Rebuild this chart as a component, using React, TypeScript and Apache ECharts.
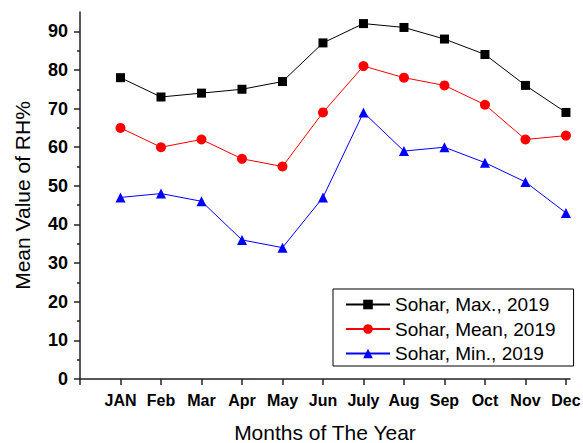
import React, { useEffect, useRef } from "react";
import * as echarts from "echarts";

const months = ["JAN", "Feb", "Mar", "Apr", "May", "Jun", "July", "Aug", "Sep", "Oct", "Nov", "Dec"];
const maxValues = [78, 73, 74, 75, 77, 87, 92, 91, 88, 84, 76, 69];
const meanValues = [65, 60, 62, 57, 55, 69, 81, 78, 76, 71, 62, 63];
const minValues = [47, 48, 46, 36, 34, 47, 69, 59, 60, 56, 51, 43];
const yMajorTicks = [0, 10, 20, 30, 40, 50, 60, 70, 80, 90];
const yMinorTicks = [5, 15, 25, 35, 45, 55, 65, 75, 85];
const seriesNames = ["Sohar, Max., 2019", "Sohar, Mean, 2019", "Sohar, Min., 2019"];

const FONT = "Liberation Sans, Arial, sans-serif";

export default function App() {
  const ref = useRef<HTMLDivElement>(null);
  useEffect(() => {
    if (!ref.current) return;
    document.body.style.margin = "0";
    const chart = echarts.init(ref.current, null, { renderer: "svg" });
    const toPts = (vals: number[]) => vals.map((v, i) => [i + 1, v]);
    const xPositions = months.map((_, i) => i + 1);
    const axisColor = "#222";
    chart.setOption({
      animation: false,
      backgroundColor: "#fff",
      textStyle: { fontFamily: FONT },
      grid: { left: 80, right: 13, top: 12, bottom: 64, containLabel: false, outerBoundsMode: "none" },
      legend: {
        orient: "vertical",
        left: 333,
        top: 289,
        padding: [6, 18, 3, 12],
        itemWidth: 44,
        itemHeight: 12,
        itemGap: 5.5,
        borderColor: "#000",
        borderWidth: 1,
        backgroundColor: "#fff",
        textStyle: { fontSize: 19, lineHeight: 18, color: "#000", fontFamily: FONT },
        data: seriesNames,
      },
      xAxis: {
        type: "value",
        min: 0,
        max: 12.1,
        interval: 1,
        name: "Months of The Year",
        nameLocation: "middle",
        nameGap: 43,
        nameTextStyle: { fontSize: 21, color: "#000", fontFamily: FONT },
        axisLine: { show: true, onZero: false, lineStyle: { color: axisColor, width: 1.5 } },
        axisTick: { show: true, inside: false, length: 6, customValues: [0, ...xPositions], lineStyle: { color: axisColor, width: 1.5 } },
        axisLabel: {
          customValues: xPositions,
          formatter: (v: number) => months[Math.round(v) - 1] ?? "",
          fontSize: 16,
          fontWeight: "bold",
          color: "#000",
          margin: 13,
          fontFamily: FONT,
        },
        splitLine: { show: false },
      },
      yAxis: [
        {
          type: "value",
          min: 0,
          max: 95,
          interval: 10,
          name: "Mean Value of RH%",
          nameLocation: "middle",
          nameGap: 47,
          nameTextStyle: { fontSize: 21, color: "#000", fontFamily: FONT },
          axisLine: { show: true, onZero: false, lineStyle: { color: axisColor, width: 1.5 } },
          axisTick: { show: true, inside: false, length: 6, customValues: yMajorTicks, lineStyle: { color: axisColor, width: 1.5 } },
          axisLabel: {
            customValues: yMajorTicks,
            fontSize: 18,
            fontWeight: "bold",
            color: "#000",
            margin: 12,
            fontFamily: FONT,
          },
          splitLine: { show: false },
        },
        {
          type: "value",
          position: "left",
          min: 0,
          max: 95,
          interval: 5,
          axisLine: { show: false },
          axisTick: { show: true, inside: false, length: 3, customValues: yMinorTicks, lineStyle: { color: axisColor, width: 1.5 } },
          axisLabel: { show: false },
          splitLine: { show: false },
        },
      ],
      series: [
        {
          name: seriesNames[0],
          type: "line",
          data: toPts(maxValues),
          symbol: "rect",
          symbolSize: 9,
          color: "#000",
          lineStyle: { width: 1, color: "#000" },
          itemStyle: { color: "#000" },
        },
        {
          name: seriesNames[1],
          type: "line",
          data: toPts(meanValues),
          symbol: "circle",
          symbolSize: 10,
          color: "#ff0000",
          lineStyle: { width: 1, color: "#ff0000" },
          itemStyle: { color: "#ff0000" },
        },
        {
          name: seriesNames[2],
          type: "line",
          data: toPts(minValues),
          symbol: "triangle",
          symbolSize: 10,
          color: "#0000ff",
          lineStyle: { width: 1, color: "#0000ff" },
          itemStyle: { color: "#0000ff" },
        },
      ],
    });
    return () => chart.dispose();
  }, []);
  return <div ref={ref} style={{ width: 583, height: 443 }} />;
}
